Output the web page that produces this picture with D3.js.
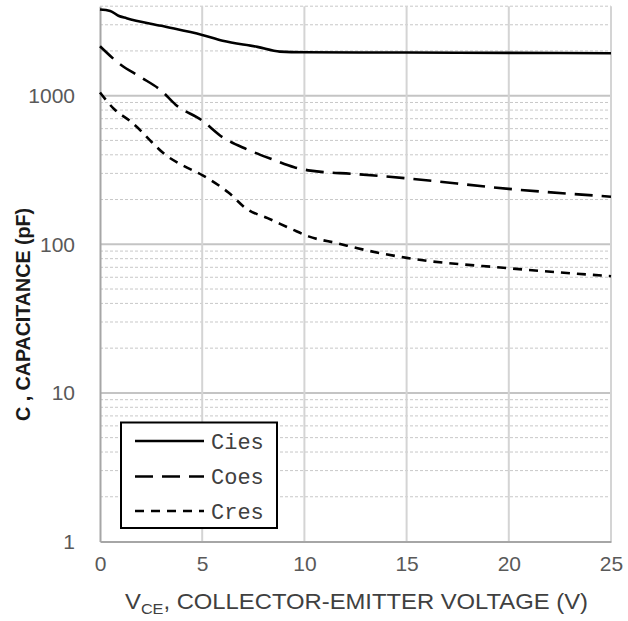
<!DOCTYPE html>
<html>
<head>
<meta charset="utf-8">
<script src="https://cdn.jsdelivr.net/npm/d3@7"></script>
<style>
  html, body { margin: 0; padding: 0; background: #fff; }
  svg { display: block; }
</style>
</head>
<body>
<svg id="chart" width="628" height="621"></svg>
<script>
// ---- data ----
const seriesNames = ["Cies", "Coes", "Cres"];
const ciesV = [0, 0.5, 0.9, 1.3, 3, 5, 6, 7.7, 8.8, 10, 15, 20, 25];
const ciesC = [3800, 3720, 3450, 3320, 2950, 2560, 2340, 2130, 1980, 1960, 1950, 1940, 1930];
const coesV = [0, 1, 2, 3, 3.7, 5, 6, 7.2, 8.5, 9.5, 10.3, 12.5, 15, 20, 25];
const coesC = [2150, 1620, 1330, 1080, 870, 680, 525, 435, 370, 330, 313, 297, 278, 236, 209];
const cresV = [0, 0.7, 1.5, 2, 2.45, 3.2, 4, 5, 6.3, 7.2, 8.2, 9.4, 10.2, 11.7, 12.6, 15, 20, 25];
const cresC = [1050, 810, 670, 580, 500, 400, 342, 292, 222, 172, 150, 126, 113, 101, 94, 81, 69, 61];
const xTicks = [0, 5, 10, 15, 20, 25];
const yTicks = [1, 10, 100, 1000];
const xTitleMain = "V";
const xTitleSub = "CE";
const xTitleRest = ", COLLECTOR-EMITTER VOLTAGE (V)";
const yTitle = "C , CAPACITANCE (pF)";

(function () {
// ---- layout ----
const svg = d3.select("#chart");
const pLeft = 100, pRight = 611, pTop = 6.2, pBottom = 541.5;
const x = d3.scaleLinear().domain([0, 25]).range([pLeft, pRight]);
const y = d3.scaleLog().domain([1, 4000]).range([pBottom, pTop]);

// minor horizontal gridlines
const minor = [];
for (let d = 1; d <= 1000; d *= 10) {
  for (let k = 2; k <= 9; k++) { if (k * d <= 4000) minor.push(k * d); }
}
svg.append("g").selectAll("line").data(minor).join("line")
  .attr("x1", pLeft).attr("x2", pRight)
  .attr("y1", d => y(d)).attr("y2", d => y(d))
  .attr("stroke", "#c8c8c8").attr("stroke-width", 1)
  .attr("stroke-dasharray", "3,2");

// major horizontal gridlines
svg.append("g").selectAll("line").data(yTicks.slice(1)).join("line")
  .attr("x1", pLeft).attr("x2", pRight)
  .attr("y1", d => y(d)).attr("y2", d => y(d))
  .attr("stroke", "#c4c4c4").attr("stroke-width", 2);

// vertical gridlines
svg.append("g").selectAll("line").data(xTicks.slice(1)).join("line")
  .attr("x1", d => x(d)).attr("x2", d => x(d))
  .attr("y1", pTop).attr("y2", pBottom)
  .attr("stroke", "#d4d4d4").attr("stroke-width", 2);

// axes
const tickFont = "'Liberation Sans', Arial, sans-serif";
const gx = svg.append("g").attr("transform", `translate(0,${pBottom})`)
  .call(d3.axisBottom(x).tickValues(xTicks).tickSize(0).tickPadding(15).tickFormat(d3.format("d")));
gx.select(".domain").attr("stroke", "#a6a6a6").attr("stroke-width", 2);
gx.selectAll("text").attr("fill", "#595959").style("font-family", tickFont).style("font-size", "21px");

const gy = svg.append("g").attr("transform", `translate(${pLeft},0)`)
  .call(d3.axisLeft(y).tickValues(yTicks).tickSize(0).tickPadding(25).tickFormat(d3.format("d")));
gy.select(".domain").attr("stroke", "#a6a6a6").attr("stroke-width", 2);
gy.selectAll("text").attr("fill", "#595959").style("font-family", tickFont).style("font-size", "21px");

// series lines
const line = d3.line().x(d => x(d[0])).y(d => y(d[1])).curve(d3.curveMonotoneX);
const series = [
  { name: seriesNames[0], pts: d3.zip(ciesV, ciesC), dash: null },
  { name: seriesNames[1], pts: d3.zip(coesV, coesC), dash: "18,9" },
  { name: seriesNames[2], pts: d3.zip(cresV, cresC), dash: "9,7" }
];
svg.append("g").selectAll("path").data(series).join("path")
  .attr("d", d => line(d.pts))
  .attr("fill", "none").attr("stroke", "#000").attr("stroke-width", 2.6)
  .attr("stroke-dasharray", d => d.dash);

// legend
const lg = svg.append("g");
lg.append("rect").attr("x", 121).attr("y", 422.5).attr("width", 156).attr("height", 105.5)
  .attr("fill", "#fff").attr("stroke", "#000").attr("stroke-width", 2);
const rowY = [441, 476.5, 511];
series.forEach((s, i) => {
  lg.append("line").attr("x1", 135).attr("x2", 204).attr("y1", rowY[i]).attr("y2", rowY[i])
    .attr("stroke", "#000").attr("stroke-width", 2.6).attr("stroke-dasharray", s.dash);
  lg.append("text").attr("x", 211).attr("y", rowY[i]).attr("dy", "0.36em")
    .attr("fill", "#404040")
    .style("font-family", "'Liberation Mono', 'DejaVu Sans Mono', monospace").style("font-size", "22px")
    .text(s.name);
});

// x title
const xt = svg.append("text").attr("x", 356.5).attr("y", 609).attr("text-anchor", "middle")
  .attr("fill", "#404040")
  .style("font-family", tickFont).style("font-size", "22px")
  .attr("textLength", 463).attr("lengthAdjust", "spacingAndGlyphs");
xt.append("tspan").text(xTitleMain);
xt.append("tspan").attr("dy", 5).style("font-size", "15px").text(xTitleSub);
xt.append("tspan").attr("dy", -5).text(xTitleRest);

// y title
svg.append("text").attr("transform", `translate(30,314.5) rotate(-90)`)
  .attr("text-anchor", "middle").attr("fill", "#1a1a1a")
  .style("font-family", tickFont).style("font-size", "21px").style("font-weight", "bold")
  .attr("textLength", 213).attr("lengthAdjust", "spacingAndGlyphs")
  .text(yTitle);
})();
</script>
</body>
</html>
